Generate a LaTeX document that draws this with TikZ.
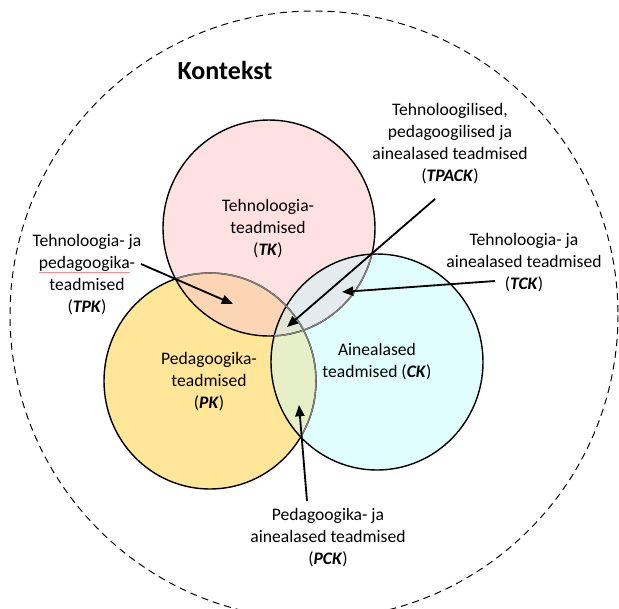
\documentclass[tikz,border=0pt]{standalone}
\usepackage{fontspec}
\setmainfont{Carlito}
\usetikzlibrary{arrows.meta, calc}

\definecolor{tkpink}{HTML}{FFE1E1}
\definecolor{pkyellow}{HTML}{FFE699}
\definecolor{ckcyan}{HTML}{E1FEFF}
\definecolor{tpkpeach}{HTML}{FBD5B4}
\definecolor{tckgrey}{HTML}{E3EBEE}
\definecolor{pckgreen}{HTML}{E6EFC8}
\definecolor{tpackgrey}{HTML}{E2E6D2}

\newcommand\lblfont{\fontsize{12.5}{15.6}\selectfont}
\newcommand\abbr[1]{(\textbf{\textit{#1}})}
\newcommand\spellmark[1]{\setbox0\hbox{#1}\rlap{\color{red!45}\rule[-2.6pt]{\wd0}{0.35pt}}#1}
\newcommand\tkcirc{(269,228) ellipse[x radius=106, y radius=108]}
\newcommand\pkcirc{(210,381) ellipse[x radius=106, y radius=108]}
\newcommand\ckcirc{(377,362) ellipse[x radius=106, y radius=108]}

\begin{document}
\begin{tikzpicture}[x=0.025cm, y=-0.025cm,
    lbl/.style={align=center, font=\lblfont, inner sep=0pt},
    rand/.style={line width=1pt},
    halb/.style={line width=1pt, draw=black!50},
    pil/.style={-{Triangle[length=8pt, width=6.5pt]}, line width=1.3pt}
  ]
  \useasboundingbox (0,0) rectangle (619,608);

  % kontekst
  \draw[dash pattern=on 5pt off 3.5pt, line width=0.7pt] (314,315) circle[radius=304];
  \node[font=\fontsize{18.5}{22}\selectfont\bfseries, inner sep=0pt] (kontekst) at (225,70) {Kontekst};

  % ringid
  \fill[pkyellow] \pkcirc;
  \fill[tkpink] \tkcirc;
  \fill[ckcyan] \ckcirc;
  \begin{scope}
    \clip \tkcirc;
    \fill[tpkpeach] \pkcirc;
    \fill[tckgrey] \ckcirc;
  \end{scope}
  \begin{scope}
    \clip \pkcirc;
    \fill[pckgreen] \ckcirc;
    \clip \tkcirc;
    \fill[tpackgrey] \ckcirc;
  \end{scope}
  \draw[rand] \pkcirc \tkcirc \ckcirc;
  \begin{scope}
    \clip \tkcirc;
    \draw[halb] \pkcirc;
  \end{scope}
  \begin{scope}
    \clip \ckcirc;
    \draw[halb] \pkcirc \tkcirc;
  \end{scope}

  \coordinate (tk) at (268,229);
  \coordinate (pk) at (209,382);
  \coordinate (ck) at (377,362);

  \node[lbl] (tklbl) at (tk) {Tehnoloogia-\\teadmised\\\abbr{TK}};
  \node[lbl] (pklbl) at (pk) {Pedagoogika-\\teadmised\\\abbr{PK}};
  \node[lbl] (cklbl) at (ck) {Ainealased\\teadmised \abbr{CK}};

  \node[lbl] (tpack) at (450,144) {Tehnoloogilised,\\pedagoogilised ja\\ainealased teadmised\\\abbr{TPACK}};
  \node[lbl] (tpk) at (87,275) {Tehnoloogia- ja\\\spellmark{pedagoogika}-\\teadmised\\\abbr{TPK}};
  \node[lbl] (tck) at (524,263) {Tehnoloogia- ja\\ainealased teadmised\\\abbr{TCK}};
  \node[lbl] (pck) at (328,538) {Pedagoogika- ja\\ainealased teadmised\\\abbr{PCK}};

  % nooled
  \coordinate (tpkto) at (233,304);
  \coordinate (tpackto) at (287,327);
  \coordinate (tckto) at (342,292);
  \coordinate (pckto) at (299,405);

  \draw[pil] ($(tpk)+(54,-11)$) -- (tpkto);
  \draw[pil] ($(tpack)+(-15,55)$) -- (tpackto);
  \draw[pil] ($(tck)+(-29,18)$) -- (tckto);
  \draw[pil] ($(pck)+(-21,-37)$) -- (pckto);
\end{tikzpicture}
\end{document}
